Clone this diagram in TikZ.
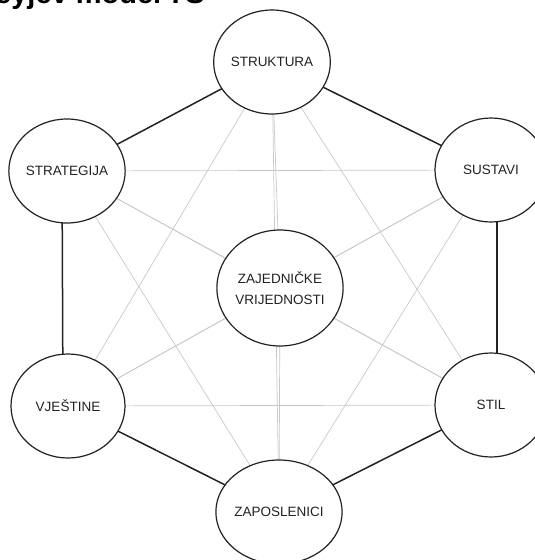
\documentclass[tikz,border=0pt]{standalone}
\usepackage{fontspec}
\setmainfont{Liberation Sans}
\usetikzlibrary{shapes.geometric}
\definecolor{ink}{HTML}{222222}
\definecolor{thin}{HTML}{C8C8C8}
\tikzset{
  outer/.style={ellipse, draw=ink, line width=1.2pt, fill=white, minimum width=110pt, minimum height=104pt, inner sep=0pt, font=\fontsize{13.5}{21}\selectfont, text=ink, align=center},
  inner/.style={outer, minimum width=120pt, minimum height=116pt},
  graylink/.style={draw=thin, line width=0.7pt},
  blacklink/.style={draw=ink, line width=1.5pt},
}
\begin{document}
\begin{tikzpicture}[x=1pt,y=-1pt]
\useasboundingbox (0,0) rectangle (535,560);
\clip (0,0) rectangle (535,560);
\node[anchor=base east, font=\fontsize{29}{34}\bfseries\selectfont, inner sep=0pt] (title) at (205,3.5) {McKinseyjev model 7S};
% coordinates for nodes
\coordinate (pstruk) at (272,62);
\coordinate (pstrat) at (67,171);
\coordinate (psust) at (491,170);
\coordinate (pzaj) at (280,288);
\coordinate (pvjes) at (68,406);
\coordinate (pstil) at (491,405);
\coordinate (pzap) at (279,512);
% gray links (all pairs)
\foreach \a/\b in {pstruk/pzaj,pstrat/pzaj,psust/pzaj,pvjes/pzaj,pstil/pzaj,pzap/pzaj,
  pstruk/pvjes,pstruk/pstil,pstruk/pzap,pstrat/psust,pstrat/pstil,pstrat/pzap,
  psust/pvjes,psust/pzap,pvjes/pstil}
  \draw[graylink] (\a) -- (\b);
% black hexagon
\draw[blacklink] (pstruk) -- (psust);
\draw[blacklink] (pstruk) -- (pstrat);
\draw[blacklink] ([xshift=-5pt]pstrat) -- ([xshift=-5pt]pvjes);
\draw[blacklink] ([xshift=6pt]psust) -- ([xshift=6pt]pstil);
\draw[blacklink] (pvjes) -- (pzap);
\draw[blacklink] (pstil) -- (pzap);
% nodes
\node[outer] (struk) at (pstruk) {STRUKTURA};
\node[outer] (strat) at (pstrat) {STRATEGIJA};
\node[outer, minimum width=112pt] (sust) at (psust) {SUSTAVI};
\node[inner] (zaj) at (pzaj) {ZAJEDNIČKE\\VRIJEDNOSTI};
\node[outer, minimum width=114pt] (vjes) at (pvjes) {VJEŠTINE};
\node[outer, minimum width=112pt] (stil) at (pstil) {STIL};
\node[outer] (zap) at (pzap) {ZAPOSLENICI};
\end{tikzpicture}
\end{document}
